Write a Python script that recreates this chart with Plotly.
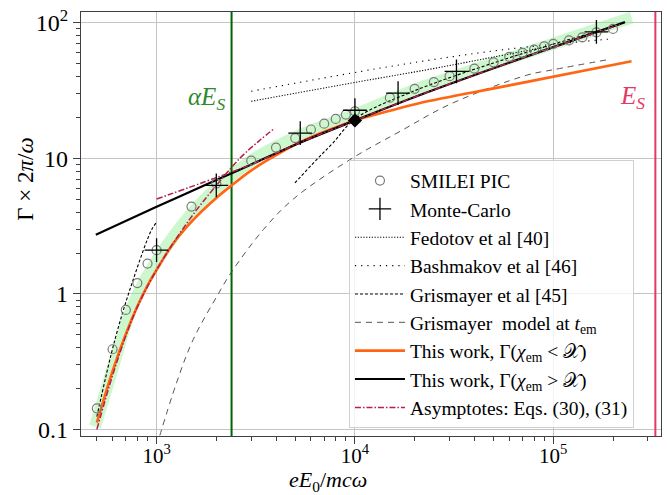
import numpy as np
import plotly.graph_objects as go

# ---- data: pair-production rate vs normalised field amplitude ----
pic_x = [500, 600, 700, 800, 900, 1000, 1500, 2000, 3000, 4000, 5000, 6000, 7000,
         8000, 9000, 10000, 15000, 20000, 25000, 30000, 40000, 50000, 60000, 70000,
         80000, 90000, 100000, 120000, 140000, 165000, 200000]
pic_y = [0.143, 0.39, 0.76, 1.2, 1.67, 2.1, 4.4, 6.5, 9.6, 12.0, 14.1, 16.3, 18.0,
         19.5, 21.0, 22.2, 28.0, 32.5, 36.5, 40.3, 45.9, 51.0, 56.0, 60.0,
         63.4, 66.8, 69.8, 74.0, 78.0, 85.0, 90.0]

mc_x = [1000, 2000, 5300, 10000, 16500, 32500, 165000]
mc_y = [2.1, 6.3, 15.3, 22.6, 30.2, 43.8, 85.7]

ref_x = [10000]
ref_y = [19.0]

fedotov_x = [3000, 10600, 23900, 50000, 95000]
fedotov_y = [26.3, 36.8, 45.4, 55.8, 67.0]

bashmakov_x = [3000, 10600, 23900, 60000, 197000]
bashmakov_y = [31.2, 43.6, 53.0, 64.0, 76.0]

# two branches (low / high field), separated by a gap
grism_x = [500, 616, 762, 944, 1000, None, 4980, 6410, 7760, 10000, 20000, 50000, 100000, 200000]
grism_y = [0.124, 0.457, 1.27, 2.97, 3.36, None, 6.57, 9.77, 13.0, 19.5, 31.5, 50.5, 69.5, 93.0]

grism_tem_x = [1000, 1260, 1530, 2048, 2388, 3450, 4890, 9440, 16900, 30100, 73400, 100000, 190000]
grism_tem_y = [0.075, 0.22, 0.46, 1.0, 1.45, 2.97, 5.0, 9.77, 15.8, 25.0, 41.0, 45.0, 53.5]

low_x = [500, 600, 700, 800, 900, 1000, 1200, 1400, 1700, 2000, 2388, 2954, 3500, 4345,
         5000, 6412, 8000, 10000, 15000, 21300, 60000, 248000]
low_y = [0.112, 0.269, 0.506, 0.808, 1.15, 1.5, 2.3, 3.05, 4.1, 5.1, 6.3, 8.0, 9.4, 11.3,
         12.6, 14.9, 16.9, 19.0, 22.4, 25.6, 34.5, 52.0]

high_x = [494, 1000, 2000, 3000, 5000, 10000, 21300, 70000, 230000]
high_y = [2.73, 4.38, 6.9, 9.0, 12.6, 19.0, 29.3, 55.0, 101.0]

# low-field branch, gap, then high-field branch
asym_x = [500, 600, 700, 800, 1000, 1300, 1600, 2000, 2630, 3300, 3950, None,
          1000, 2000, 3000, 5000, 10000, 21300, 70000, 217000]
asym_y = [0.1, 0.25, 0.49, 0.8, 1.5, 2.75, 4.2, 6.3, 10.0, 13.5, 16.7, None,
          5.0, 7.2, 9.0, 12.6, 19.0, 29.3, 55.0, 97.0]

band_x = [490, 600, 700, 800, 1000, 1500, 2000, 3000, 4000, 6000, 10000, 20000, 50000, 100000, 248000]
band_y = [0.105, 0.28, 0.6, 0.98, 1.75, 3.9, 6.0, 9.6, 12.2, 16.0, 21.0, 32.0, 50.0, 70.0, 109.0]

a_ES = 2388        # alpha * E_S
E_S = 327000       # Schwinger field

x_ticks = [1e3, 1e4, 1e5]
x_ticktext = ["10<sup>3</sup>", "10<sup>4</sup>", "10<sup>5</sup>"]
y_ticks = [0.1, 1, 10, 100]
y_ticktext = ["0.1", "1", "10", "10<sup>2</sup>"]

FONT = "Liberation Serif"
ORANGE = "#ff6512"
CRIMSON = "#b3204d"
ES_RED = "#e6395f"

fig = go.Figure()

fig.add_trace(go.Scatter(x=band_x, y=band_y, mode="lines", showlegend=False,
                         line=dict(color="rgba(144,238,144,0.45)", width=12),
                         line_shape="spline", hoverinfo="skip"))

# field markers
fig.add_trace(go.Scatter(x=[a_ES, a_ES], y=[0.01, 1000], mode="lines", showlegend=False,
                         line=dict(color="#006400", width=2)))
fig.add_trace(go.Scatter(x=[E_S, E_S], y=[0.01, 1000], mode="lines", showlegend=False,
                         line=dict(color=ES_RED, width=2)))

fig.add_trace(go.Scatter(x=grism_tem_x, y=grism_tem_y, mode="lines", line_shape="spline",
                         name="Grismayer  model at <i>t</i><sub>em</sub>", legendrank=6,
                         line=dict(color="#555555", width=1, dash="6px,5px")))
fig.add_trace(go.Scatter(x=bashmakov_x, y=bashmakov_y, mode="lines", line_shape="spline",
                         name="Bashmakov et al [46]", legendrank=4,
                         line=dict(color="black", width=1.1, dash="1.2px,5px")))
fig.add_trace(go.Scatter(x=fedotov_x, y=fedotov_y, mode="lines", line_shape="spline",
                         name="Fedotov et al [40]", legendrank=3,
                         line=dict(color="black", width=1.1, dash="1.2px,1.6px")))
fig.add_trace(go.Scatter(x=grism_x, y=grism_y, mode="lines", line_shape="spline",
                         name="Grismayer et al [45]", legendrank=5, connectgaps=False,
                         line=dict(color="black", width=1.1, dash="3px,2px")))
fig.add_trace(go.Scatter(x=low_x, y=low_y, mode="lines", line_shape="spline",
                         name="This work, Γ(<i>χ</i><sub>em</sub> &lt; 𝒳)", legendrank=7,
                         line=dict(color=ORANGE, width=2.6)))
fig.add_trace(go.Scatter(x=high_x, y=high_y, mode="lines", line_shape="spline",
                         name="This work, Γ(<i>χ</i><sub>em</sub> &gt; 𝒳)", legendrank=8,
                         line=dict(color="black", width=2.2)))
fig.add_trace(go.Scatter(x=asym_x, y=asym_y, mode="lines", line_shape="spline",
                         name="Asymptotes: Eqs. (30), (31)", legendrank=9, connectgaps=False,
                         line=dict(color=CRIMSON, width=1.5, dash="6px,2px,1.5px,2px")))
fig.add_trace(go.Scatter(x=pic_x, y=pic_y, mode="markers", name="SMILEI PIC", legendrank=1,
                         marker=dict(symbol="circle-open", size=9, color="#7a7a7a",
                                     line=dict(width=1.2, color="#7a7a7a"))))
fig.add_trace(go.Scatter(x=mc_x, y=mc_y, mode="markers", name="Monte-Carlo", legendrank=2,
                         marker=dict(symbol="cross-thin", size=17, color="black",
                                     line=dict(width=1.3, color="black"))))
fig.add_trace(go.Scatter(x=ref_x, y=ref_y, mode="markers", showlegend=False,
                         marker=dict(symbol="diamond", size=11, color="black")))

axis_common = dict(type="log", showline=True, linecolor="#404040", linewidth=1.2,
                   mirror=True, ticks="outside", ticklen=7, tickwidth=1, tickcolor="#404040",
                   showgrid=True, gridcolor="#c4c4c4", gridwidth=1, zeroline=False)

fig.update_xaxes(**axis_common, range=[2.619, 5.543], tickvals=x_ticks, ticktext=x_ticktext,
                 tickfont=dict(family=FONT, size=21, color="black"), ticklabelstandoff=-6,
                 minor=dict(ticks="outside", ticklen=4, tickcolor="#404040", showgrid=False,
                            tickvals=[500, 600, 700, 800, 900, 2000, 3000, 4000, 5000, 6000,
                                      7000, 8000, 9000, 20000, 30000, 40000, 50000, 60000,
                                      70000, 80000, 90000, 200000, 300000]))
fig.update_yaxes(**axis_common, range=[-1.049, 2.079], tickvals=y_ticks, ticktext=y_ticktext,
                 tickfont=dict(family=FONT, size=24, color="black"),
                 minor=dict(ticks="outside", ticklen=4, tickcolor="#404040", showgrid=False,
                            tickvals=[0.2, 0.3, 0.4, 0.5, 0.6, 0.7, 0.8, 0.9, 2, 3, 4, 5, 6,
                                      7, 8, 9, 20, 30, 40, 50, 60, 70, 80, 90]))

fig.add_annotation(x=np.log10(a_ES), y=1.44, xref="x", yref="y", xanchor="right",
                   yanchor="middle", xshift=-5, showarrow=False,
                   text="<i>αE</i><sub><i>S</i></sub>",
                   font=dict(family=FONT, size=25, color="#2e8b2e"))
fig.add_annotation(x=np.log10(E_S), y=1.45, xref="x", yref="y", xanchor="right",
                   yanchor="middle", xshift=-8, showarrow=False,
                   text="<i>E</i><sub><i>S</i></sub>",
                   font=dict(family=FONT, size=25, color=ES_RED))
fig.add_annotation(x=0.425, y=-0.106, xref="paper", yref="paper", showarrow=False,
                   xanchor="center", yanchor="middle",
                   text="<i>eE</i><sub>0</sub>/<i>mcω</i>",
                   font=dict(family=FONT, size=22, color="black"))
fig.add_annotation(x=-0.097, y=0.606, xref="paper", yref="paper", showarrow=False,
                   xanchor="center", yanchor="middle",
                   textangle=-90, text="Γ × 2<i>π</i>/<i>ω</i>",
                   font=dict(family=FONT, size=23, color="black"))

fig.update_layout(
    width=667, height=495,
    margin=dict(l=81, r=6, t=12, b=59),
    paper_bgcolor="white", plot_bgcolor="white",
    font=dict(family=FONT, color="black"),
    legend=dict(x=0.462, y=0.65, xanchor="left", yanchor="top",
                bgcolor="rgba(255,255,255,0.8)", bordercolor="#d0d0d0", borderwidth=1,
                font=dict(family=FONT, size=19.5, color="black"), itemwidth=50),
)

fig.write_html("out.html")
